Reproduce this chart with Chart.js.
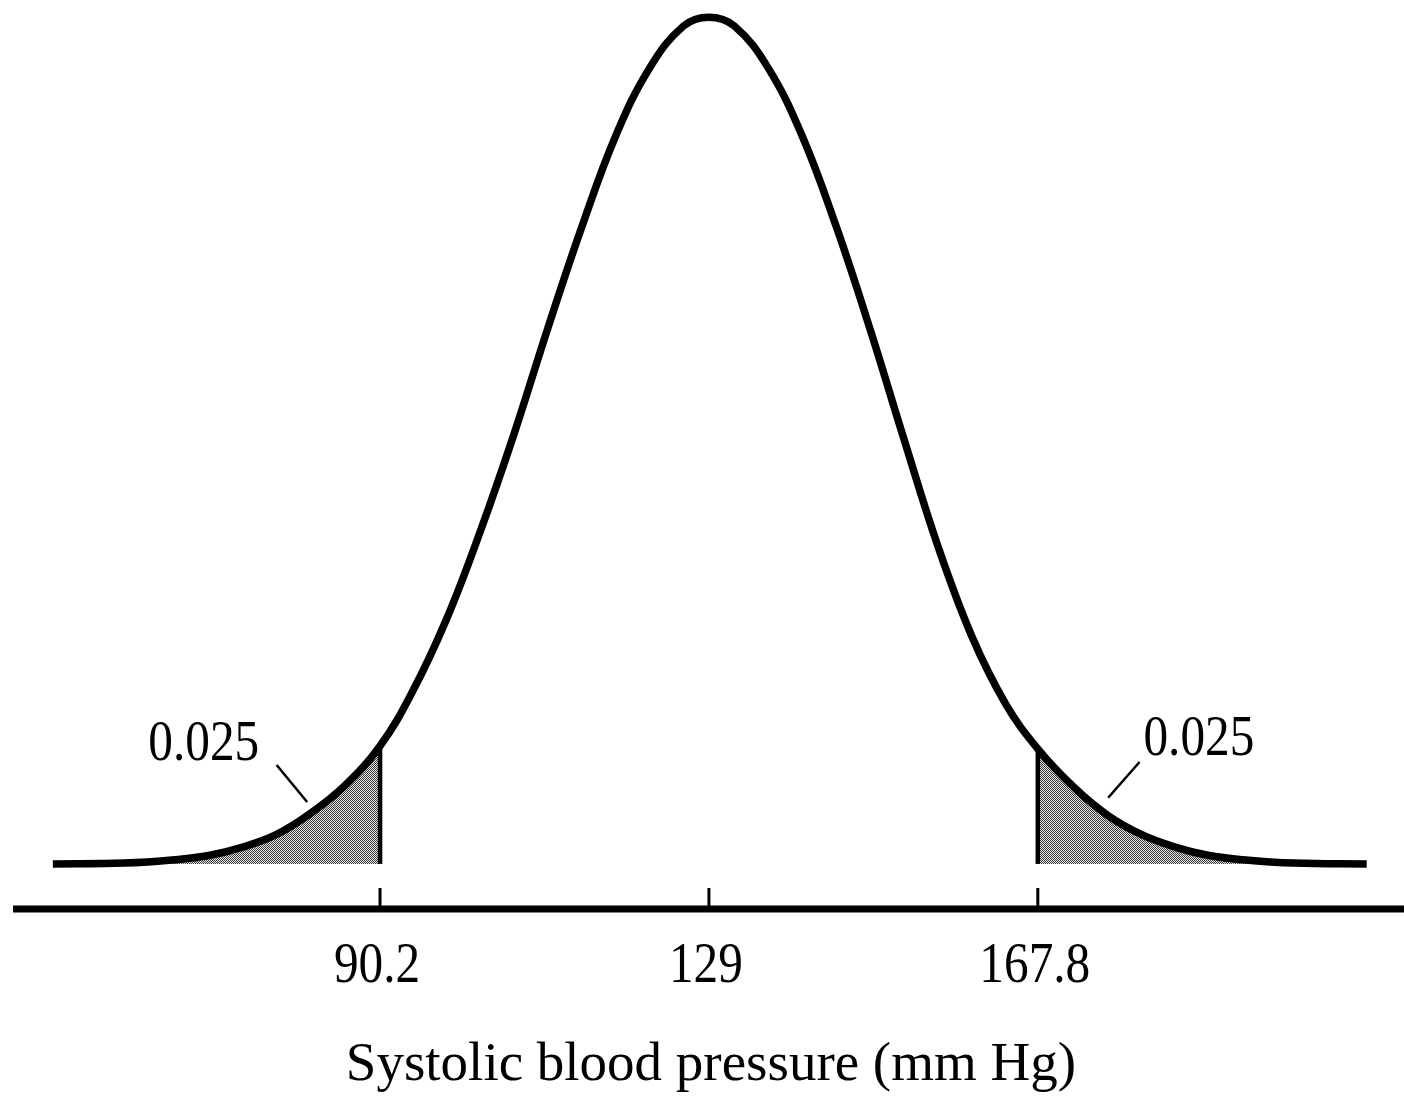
<!DOCTYPE html>
<html>
<head>
<meta charset="utf-8">
<script src="https://cdn.jsdelivr.net/npm/chart.js@4.4.1/dist/chart.umd.min.js"></script>
<style>
  html, body { margin: 0; padding: 0; background: #fff; }
  #wrap { width: 1404px; height: 1101px; }
</style>
</head>
<body>
<div id="wrap"><canvas id="bp" width="1404" height="1101"></canvas></div>
<script>
// systolic blood pressure (mm Hg) and curve height (density)
const pressures = [51.6, 60, 66, 70, 74, 78, 82, 86, 90.2, 94, 98, 102, 106, 110, 114, 118, 122, 126, 129,
  132, 136, 140, 144, 148, 152, 156, 160, 164, 167.8, 172, 176, 180, 184, 188, 192, 198, 206.6];
const densities = [0, 0.00002, 0.0001, 0.0002, 0.0004, 0.0007, 0.0012, 0.00185, 0.0028, 0.00408, 0.00579,
  0.00788, 0.0102, 0.01272, 0.01512, 0.01728, 0.01889, 0.01989, 0.0201,
  0.01989, 0.01889, 0.01728, 0.01514, 0.0127, 0.01009, 0.00755, 0.00541, 0.0038, 0.00273, 0.00183,
  0.00116, 0.0007, 0.0004, 0.0002, 0.0001, 0.00002, 0];

const lowerCut = 90.2;
const upperCut = 167.8;
const tickValues = [90.2, 129, 167.8];
const tickLabels = ['90.2', '129', '167.8'];
const tailLabels = ['0.025', '0.025'];
const axisTitle = 'Systolic blood pressure (mm Hg)';

const SERIF = '"Liberation Serif", "Times New Roman", serif';

const curve = pressures.map((x, i) => ({ x: x, y: densities[i] }));
const heightAt = (x) => densities[pressures.indexOf(x)];

// little dither pattern like the printed grey
function makeStipple() {
  const c = document.createElement('canvas');
  c.width = 2; c.height = 2;
  const g = c.getContext('2d');
  g.fillStyle = '#e8e8e8'; g.fillRect(0, 0, 2, 2);
  g.fillStyle = '#383838';
  g.fillRect(0, 0, 1, 1);
  g.fillRect(1, 1, 1, 1);
  return g.createPattern(c, 'repeat');
}

// axis line, tick marks, labels and the tail notes
const decorations = {
  id: 'decorations',
  afterDraw(chart) {
    const { ctx, chartArea, scales: { x, y } } = chart;
    const axisY = chartArea.bottom;
    ctx.save();
    ctx.strokeStyle = '#000';
    ctx.fillStyle = '#000';

    ctx.lineWidth = 7;
    ctx.beginPath();
    ctx.moveTo(chartArea.left, axisY);
    ctx.lineTo(chart.width, axisY);
    ctx.stroke();

    ctx.lineWidth = 3;
    tickValues.forEach(v => {
      const px = x.getPixelForValue(v);
      ctx.beginPath();
      ctx.moveTo(px, axisY);
      ctx.lineTo(px, axisY - 21);
      ctx.stroke();
    });

    // numbers in a slightly narrow serif
    const narrowText = (txt, cx, base) => {
      ctx.save();
      ctx.translate(cx, base);
      ctx.scale(0.88, 1);
      ctx.font = '56px ' + SERIF;
      ctx.textAlign = 'center';
      ctx.textBaseline = 'alphabetic';
      ctx.fillText(txt, 0, 0);
      ctx.restore();
    };

    tickValues.forEach((v, i) => {
      narrowText(tickLabels[i], x.getPixelForValue(v) - 3, axisY + 73);
    });

    // tail notes: text anchor and leader line, in data units
    const notes = [
      { tx: 69.4, ty: 0.00247, from: [78.0, 0.00235], to: [81.6, 0.00147] },
      { tx: 186.8, ty: 0.00259, from: [179.8, 0.00242], to: [176.1, 0.00157] }
    ];
    ctx.lineWidth = 2.5;
    notes.forEach((n, i) => {
      narrowText(tailLabels[i], x.getPixelForValue(n.tx), y.getPixelForValue(n.ty));
      ctx.beginPath();
      ctx.moveTo(x.getPixelForValue(n.from[0]), y.getPixelForValue(n.from[1]));
      ctx.lineTo(x.getPixelForValue(n.to[0]), y.getPixelForValue(n.to[1]));
      ctx.stroke();
    });

    ctx.font = '55px ' + SERIF;
    ctx.textAlign = 'center';
    ctx.textBaseline = 'alphabetic';
    ctx.fillText(axisTitle, x.getPixelForValue(129) + 2, 1080);
    ctx.restore();
  }
};

const stipple = makeStipple();

new Chart(document.getElementById('bp'), {
  type: 'line',
  data: {
    datasets: [
      {
        data: curve,
        borderColor: '#000',
        borderWidth: 7.5,
        pointRadius: 0,
        fill: false,
        tension: 0.4,
        order: 0
      },
      {
        data: [{ x: lowerCut, y: 0 }, { x: lowerCut, y: heightAt(lowerCut) }],
        borderColor: '#000',
        borderWidth: 4.5,
        pointRadius: 0,
        fill: false,
        order: 1
      },
      {
        data: [{ x: upperCut, y: 0 }, { x: upperCut, y: heightAt(upperCut) }],
        borderColor: '#000',
        borderWidth: 4.5,
        pointRadius: 0,
        fill: false,
        order: 1
      },
      {
        data: curve.filter(p => p.x <= lowerCut),
        borderWidth: 0,
        borderColor: 'rgba(0,0,0,0)',
        backgroundColor: stipple,
        pointRadius: 0,
        fill: 'origin',
        tension: 0.4,
        order: 2
      },
      {
        data: curve.filter(p => p.x >= upperCut),
        borderWidth: 0,
        borderColor: 'rgba(0,0,0,0)',
        backgroundColor: stipple,
        pointRadius: 0,
        fill: 'origin',
        tension: 0.4,
        order: 2
      }
    ]
  },
  options: {
    responsive: false,
    animation: false,
    devicePixelRatio: 1,
    layout: { padding: { left: 13, right: 0, top: 10, bottom: 192 } },
    plugins: {
      legend: { display: false },
      tooltip: { enabled: false },
      filler: { propagate: false }
    },
    scales: {
      x: { type: 'linear', min: 46.9, max: 211.0, display: false },
      y: { type: 'linear', min: -0.00107, max: 0.02027, display: false }
    }
  },
  plugins: [decorations]
});
</script>
</body>
</html>
